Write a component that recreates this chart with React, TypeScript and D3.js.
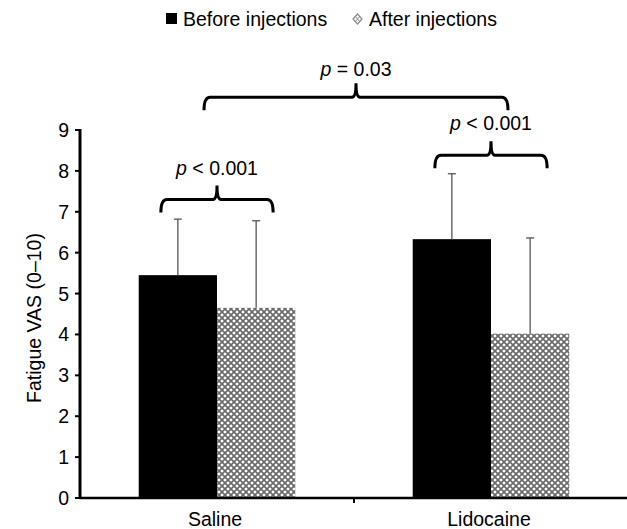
import React from "react";
import * as d3 from "d3";

const categories = ["Saline", "Lidocaine"];
const seriesNames = ["Before injections", "After injections"];
const beforeValues = [5.45, 6.33];
const afterValues = [4.65, 4.02];
const beforeErrors = [1.37, 1.6];
const afterErrors = [2.13, 2.34];
const yTicks = [0, 1, 2, 3, 4, 5, 6, 7, 8, 9];
const yLabel = "Fatigue VAS (0–10)";
const withinLabels = ["< 0.001", "< 0.001"];
const withinLevels = [7.3, 8.38];
const betweenLabel = "= 0.03";
const betweenLevel = 9.8;

const W = 627;
const H = 529;
const FONT = "'Liberation Sans', Arial, sans-serif";
const FS = 19.5;

export default function App() {
  const x = d3.scaleBand<string>().domain(categories).range([80, 628]);
  const inner = d3
    .scaleBand<string>()
    .domain(seriesNames)
    .range([0, x.bandwidth()])
    .paddingOuter(0.75)
    .paddingInner(0);
  const y = d3.scaleLinear().domain([0, 9]).range([498, 130]);
  const bw = inner.bandwidth();
  const values = [beforeValues, afterValues];
  const errors = [beforeErrors, afterErrors];

  const bracket = (x1: number, x2: number, xc: number, yH: number) => {
    const drop = 13;
    const tip = 14;
    const r = 6;
    return `M${x1},${yH + drop} Q${x1},${yH} ${x1 + r},${yH} L${xc - 4},${yH} Q${xc},${yH} ${xc},${yH - tip} Q${xc},${yH} ${xc + 4},${yH} L${x2 - r},${yH} Q${x2},${yH} ${x2},${yH + drop}`;
  };

  return (
    <svg
      width={W}
      height={H}
      style={{ position: "absolute", left: 0, top: 0, background: "#fff" }}
      fontFamily={FONT}
    >
      <defs>
        <pattern id="hatch" width={6} height={6} patternUnits="userSpaceOnUse">
          <rect width={6} height={6} fill="#fff" />
          <path d="M0,0 L6,6 M6,0 L0,6" stroke="#6a6a6a" strokeWidth={1.7} />
        </pattern>
      </defs>

      {/* legend */}
      <g fontSize={FS}>
        <rect x={166} y={13} width={11} height={11} fill="#000" />
        <text x={183} y={25.5}>{seriesNames[0]}</text>
        <path d="M353,19 L357.5,14 L362,19 L357.5,24 Z" fill="none" stroke="#888" strokeWidth={1.2} />
        <path d="M355,16 L360,22 M360,16 L355,22" stroke="#888" strokeWidth={1} />
        <text x={369} y={25.5}>{seriesNames[1]}</text>
      </g>

      {/* bars */}
      {categories.map((c, ci) =>
        seriesNames.map((s, si) => {
          const bx = (x(c) as number) + (inner(s) as number);
          const v = values[si][ci];
          return (
            <rect
              key={c + s}
              x={bx}
              y={y(v)}
              width={bw}
              height={y(0) - y(v)}
              fill={si === 0 ? "#000" : "url(#hatch)"}
            />
          );
        })
      )}

      {/* error bars */}
      {categories.map((c, ci) =>
        seriesNames.map((s, si) => {
          const cx = (x(c) as number) + (inner(s) as number) + bw / 2;
          const v = values[si][ci];
          const top = y(v + errors[si][ci]);
          return (
            <g key={"e" + c + s} stroke="#555" strokeWidth={1.3}>
              <line x1={cx} x2={cx} y1={y(v)} y2={top} />
              <line x1={cx - 4} x2={cx + 4} y1={top} y2={top} />
            </g>
          );
        })
      )}

      {/* axes */}
      <g stroke="#000">
        <line x1={80} x2={80} y1={y(9) - 1} y2={y(0) + 1} strokeWidth={3} />
        <line x1={79} x2={628} y1={y(0)} y2={y(0)} strokeWidth={2.5} />
        {yTicks.map((t) => (
          <line key={t} x1={75} x2={80} y1={y(t)} y2={y(t)} strokeWidth={2} />
        ))}
        {categories.slice(1).map((c) => (
          <line key={c} x1={x(c) as number} x2={x(c) as number} y1={y(0)} y2={y(0) + 5} strokeWidth={2} />
        ))}
      </g>
      <g fontSize={FS} textAnchor="end">
        {yTicks.map((t) => (
          <text key={t} x={69} y={y(t) + 7}>
            {t}
          </text>
        ))}
      </g>
      <g fontSize={FS} textAnchor="middle">
        {categories.map((c) => (
          <text key={c} x={(x(c) as number) + x.bandwidth() / 2 - 2} y={526}>
            {c}
          </text>
        ))}
      </g>
      <text
        fontSize={FS}
        textAnchor="middle"
        transform={`translate(41,${(y(0) + y(9)) / 2 + 4}) rotate(-90)`}
      >
        {yLabel}
      </text>

      {/* within-group brackets */}
      {categories.map((c, ci) => {
        const c0 = (x(c) as number) + (inner(seriesNames[0]) as number) + bw / 2;
        const c1 = (x(c) as number) + (inner(seriesNames[1]) as number) + bw / 2;
        const yH = y(withinLevels[ci]);
        const xc = (c0 + c1) / 2;
        return (
          <g key={"b" + c}>
            <path d={bracket(c0 - 17, c1 + 17, xc, yH)} fill="none" stroke="#000" strokeWidth={3} />
            <text x={xc} y={yH - 25} fontSize={FS} textAnchor="middle">
              <tspan fontStyle="italic">p</tspan> {withinLabels[ci]}
            </text>
          </g>
        );
      })}

      {/* between-group bracket */}
      {(() => {
        const g0 = (x(categories[0]) as number) + x.bandwidth() / 2;
        const g1 = (x(categories[1]) as number) + x.bandwidth() / 2;
        const yH = y(betweenLevel);
        const x1 = g0 - 13;
        const x2 = g1 + 17;
        const xc = (x1 + x2) / 2;
        return (
          <g>
            <path d={bracket(x1, x2, xc, yH)} fill="none" stroke="#000" strokeWidth={3} />
            <text x={xc} y={yH - 21} fontSize={FS} textAnchor="middle">
              <tspan fontStyle="italic">p</tspan> {betweenLabel}
            </text>
          </g>
        );
      })()}
    </svg>
  );
}
